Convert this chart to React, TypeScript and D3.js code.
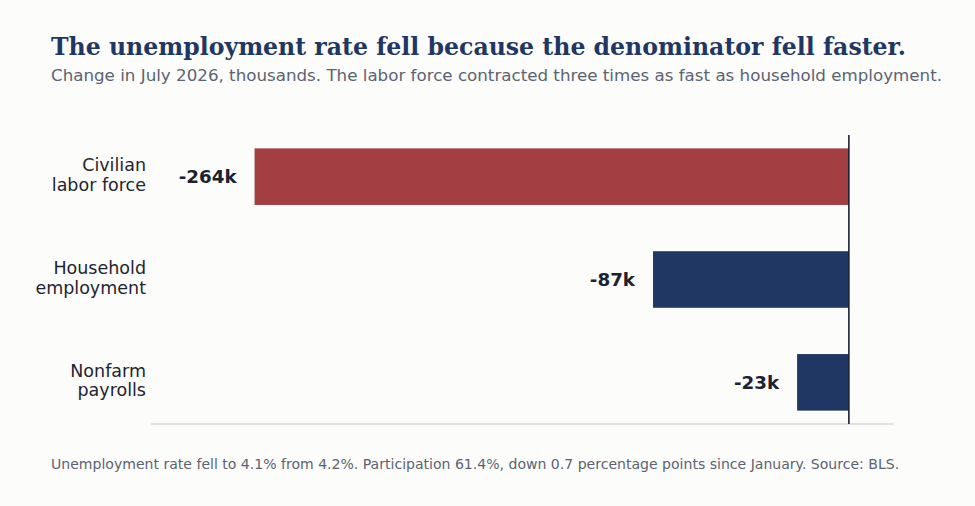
import React, { useEffect, useRef } from 'react';
import * as d3 from 'd3';

const categories = ['Civilian\nlabor force', 'Household\nemployment', 'Nonfarm\npayrolls'];
const values = [-264, -87, -23];
const barColors = ['#a33e42', '#1f3762', '#1f3762'];

const title = 'The unemployment rate fell because the denominator fell faster.';
const subtitle =
  'Change in July 2026, thousands. The labor force contracted three times as fast as household employment.';
const footnote =
  'Unemployment rate fell to 4.1% from 4.2%. Participation 61.4%, down 0.7 percentage points since January. Source: BLS.';

const W = 975;
const H = 506;
const BG = '#fcfcfa';

const App = () => {
  const svgRef = useRef(null);

  useEffect(() => {
    document.body.style.margin = '0';
    document.body.style.background = BG;

    const svg = d3.select(svgRef.current);
    svg.selectAll('*').remove();

    const x = d3.scaleLinear().domain([-310, 19.6]).range([151, 893]);
    const y = d3
      .scaleBand()
      .domain(categories)
      .range([135, 424])
      .paddingInner(0.45)
      .paddingOuter(0.13);

    svg.append('rect').attr('width', W).attr('height', H).attr('fill', BG);

    // headings
    svg
      .append('text')
      .attr('x', 51)
      .attr('y', 55)
      .attr('font-family', 'DejaVu Serif')
      .attr('font-weight', 'bold')
      .attr('font-size', 23.6)
      .attr('fill', '#1f3762')
      .text(title);

    svg
      .append('text')
      .attr('x', 51)
      .attr('y', 81)
      .attr('font-family', 'DejaVu Sans')
      .attr('font-size', 16.7)
      .attr('fill', '#5b6373')
      .text(subtitle);

    // baseline
    svg
      .append('line')
      .attr('x1', 151)
      .attr('x2', 893)
      .attr('y1', 424)
      .attr('y2', 424)
      .attr('stroke', '#d9d9d9')
      .attr('stroke-width', 1.5);

    // bars
    svg
      .append('g')
      .selectAll('rect')
      .data(values)
      .join('rect')
      .attr('x', (d) => x(Math.min(d, 0)))
      .attr('y', (d, i) => y(categories[i]))
      .attr('width', (d) => Math.abs(x(d) - x(0)))
      .attr('height', y.bandwidth())
      .attr('fill', (d, i) => barColors[i]);

    // zero line
    svg
      .append('line')
      .attr('x1', x(0))
      .attr('x2', x(0))
      .attr('y1', 135)
      .attr('y2', 424)
      .attr('stroke', '#1b2230')
      .attr('stroke-width', 1.6);

    // value labels
    svg
      .append('g')
      .selectAll('text')
      .data(values)
      .join('text')
      .attr('x', (d) => x(d) - 18)
      .attr('y', (d, i) => y(categories[i]) + y.bandwidth() / 2)
      .attr('dy', '0.35em')
      .attr('text-anchor', 'end')
      .attr('font-family', 'DejaVu Sans')
      .attr('font-weight', 'bold')
      .attr('font-size', 18.3)
      .attr('fill', '#1b2230')
      .text((d) => `${d}k`);

    // category labels
    const cat = svg
      .append('g')
      .selectAll('text')
      .data(categories)
      .join('text')
      .attr('x', 146)
      .attr('y', (d) => y(d) + y.bandwidth() / 2)
      .attr('text-anchor', 'end')
      .attr('font-family', 'DejaVu Sans')
      .attr('font-size', 17.5)
      .attr('fill', '#1e2430');
    cat
      .selectAll('tspan')
      .data((d) => d.split('\n'))
      .join('tspan')
      .attr('x', 146)
      .attr('dy', (d, i) => (i === 0 ? '-0.32em' : '1.12em'))
      .text((d) => d);

    svg
      .append('text')
      .attr('x', 51)
      .attr('y', 469)
      .attr('font-family', 'DejaVu Sans')
      .attr('font-size', 14.05)
      .attr('fill', '#5b6373')
      .text(footnote);
  }, []);

  return (
    <div>
      <svg ref={svgRef} width={W} height={H} style={{ display: 'block' }}></svg>
    </div>
  );
};

export default App;
